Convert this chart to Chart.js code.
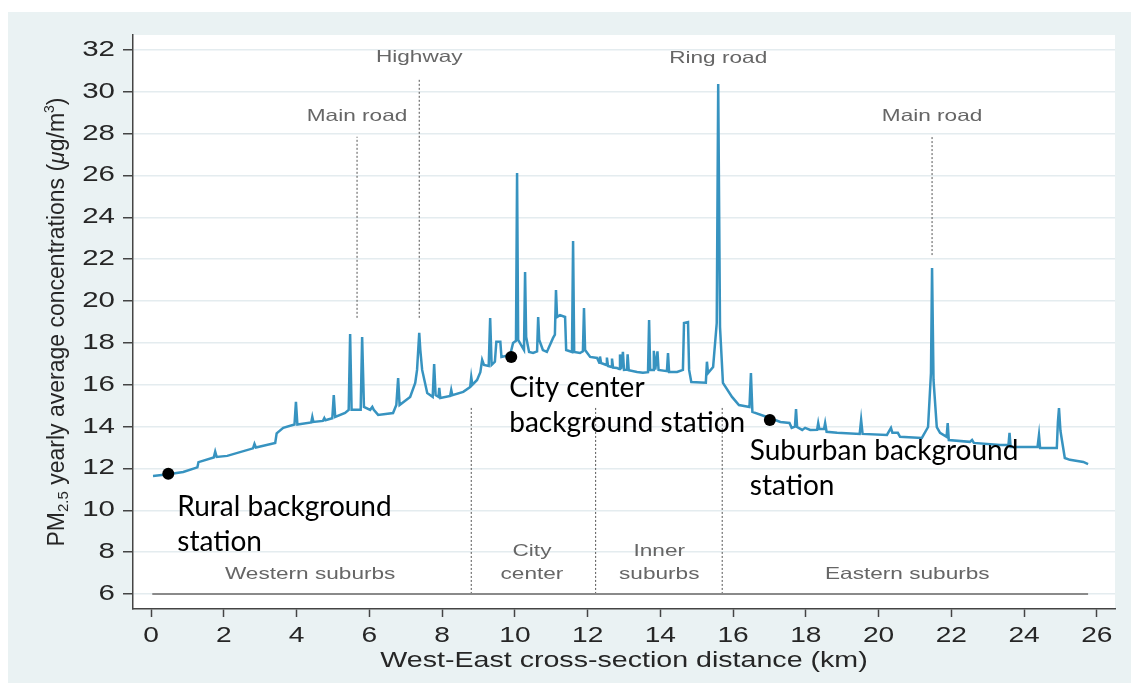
<!DOCTYPE html>
<html>
<head>
<meta charset="utf-8">
<title>PM2.5 West-East cross-section</title>
<script src="https://cdn.jsdelivr.net/npm/chart.js@4.4.1/dist/chart.umd.min.js"></script>
<style>
  html, body { margin: 0; padding: 0; background: #fff; }
  #wrap { width: 1131px; height: 695px; }
</style>
</head>
<body>
<div id="wrap"><canvas id="pmChart" width="1131" height="695"></canvas></div>
<script>
// modelled PM2.5 along the cross-section (km, ug/m3)
const distKm = [
  0.05, 0.47, 0.88, 1.27, 1.30, 1.72, 1.76, 1.80, 2.09, 2.80, 2.84, 2.88,
  3.41, 3.45, 3.63, 3.94, 3.98, 4.02, 4.40, 4.43, 4.46, 4.72, 4.76, 4.79,
  4.98, 5.02, 5.06, 5.33, 5.43, 5.47, 5.51, 5.76, 5.80, 5.85, 6.02, 6.08,
  6.12, 6.24, 6.65, 6.74, 6.79, 6.83, 7.12, 7.26, 7.31, 7.37, 7.40, 7.45,
  7.59, 7.74, 7.78, 7.82, 7.90, 7.92, 7.95, 8.22, 8.25, 8.28, 8.58, 8.77,
  8.80, 8.83, 8.96, 9.05, 9.10, 9.15, 9.28, 9.32, 9.36, 9.45, 9.49, 9.60,
  9.63, 9.87, 9.95, 10.03, 10.06, 10.09, 10.25, 10.28, 10.31, 10.39, 10.50, 10.61,
  10.64, 10.67, 10.77, 10.88, 11.05, 11.10, 11.13, 11.16, 11.24, 11.38, 11.41, 11.57,
  11.60, 11.63, 11.79, 11.87, 11.90, 11.93, 12.07, 12.26, 12.32, 12.34, 12.37, 12.51,
  12.53, 12.56, 12.65, 12.67, 12.70, 12.81, 12.87, 12.89, 12.92, 12.97, 13.00, 13.08,
  13.10, 13.13, 13.36, 13.52, 13.66, 13.69, 13.72, 13.80, 13.82, 13.86, 13.92, 13.95,
  14.18, 14.21, 14.24, 14.46, 14.62, 14.65, 14.76, 14.79, 14.85, 15.25, 15.28, 15.31,
  15.45, 15.55, 15.59, 15.64, 15.72, 15.97, 16.16, 16.45, 16.49, 16.53, 16.93, 17.30,
  17.55, 17.61, 17.70, 17.73, 17.76, 17.90, 17.98, 18.12, 18.31, 18.34, 18.37, 18.50,
  18.53, 18.57, 18.86, 19.48, 19.52, 19.56, 20.23, 20.34, 20.38, 20.53, 20.59, 21.19,
  21.36, 21.44, 21.47, 21.51, 21.60, 21.69, 21.87, 21.90, 21.93, 22.51, 22.57, 22.62,
  23.34, 23.57, 23.60, 23.63, 24.37, 24.41, 24.44, 24.90, 24.93, 24.96, 25.00, 25.04,
  25.12, 25.26, 25.63, 25.76];
const pm25 = [
  11.64, 11.72, 11.83, 12.05, 12.30, 12.52, 12.80, 12.55, 12.60, 12.96, 13.17, 13.00,
  13.22, 13.68, 13.94, 14.10, 15.18, 14.10, 14.20, 14.46, 14.22, 14.27, 14.41, 14.30,
  14.40, 15.51, 14.46, 14.65, 14.80, 18.43, 14.80, 14.80, 18.28, 14.94, 14.80, 14.94,
  14.80, 14.56, 14.65, 15.03, 16.32, 15.03, 15.42, 16.09, 16.71, 18.48, 17.66, 16.71,
  15.61, 15.42, 16.99, 15.51, 15.42, 15.85, 15.37, 15.46, 15.75, 15.50, 15.66, 15.89,
  16.37, 16.00, 16.23, 16.60, 17.19, 16.95, 16.90, 19.19, 16.95, 17.10, 18.05, 18.05,
  17.33, 17.42, 18.00, 18.10, 26.12, 18.14, 17.66, 21.39, 18.28, 17.57, 17.52, 17.60,
  19.24, 18.14, 17.66, 17.57, 18.24, 18.40, 20.53, 19.24, 19.33, 19.24, 17.66, 17.57,
  22.87, 17.57, 17.52, 17.60, 19.67, 17.66, 17.33, 17.28, 17.05, 17.35, 17.04, 16.95,
  17.30, 16.90, 16.85, 17.25, 16.82, 16.80, 16.75, 17.45, 16.75, 17.57, 16.71, 16.72,
  17.45, 16.70, 16.61, 16.57, 16.60, 19.10, 16.71, 16.71, 17.62, 16.72, 17.60, 16.71,
  16.65, 17.52, 16.61, 16.61, 16.71, 18.95, 19.00, 16.71, 16.13, 16.10, 17.10, 16.56,
  16.85, 18.95, 30.38, 18.76, 16.09, 15.42, 15.03, 14.94, 16.56, 14.70, 14.46, 14.22,
  14.17, 13.94, 14.00, 14.84, 13.98, 13.84, 13.94, 13.84, 13.85, 14.17, 13.89, 13.89,
  14.17, 13.75, 13.70, 13.65, 14.32, 13.65, 13.60, 13.94, 13.70, 13.70, 13.51, 13.46,
  13.98, 16.56, 21.58, 16.23, 13.98, 13.70, 13.51, 14.17, 13.36, 13.27, 13.36, 13.22,
  13.12, 13.12, 13.70, 13.03, 13.03, 13.60, 12.98, 12.98, 14.22, 14.89, 13.80, 13.36,
  12.50, 12.41, 12.31, 12.21];

const xTicks = [0, 2, 4, 6, 8, 10, 12, 14, 16, 18, 20, 22, 24, 26];
const yTicks = [6, 8, 10, 12, 14, 16, 18, 20, 22, 24, 26, 28, 30, 32];

const stationNames = [['Rural background', 'station'], ['City center', 'background station'], ['Suburban background', 'station']];
const stationKm = [0.47, 9.90, 17.01];
const stationPm = [11.74, 17.33, 14.32];

const roadNames = ['Main road', 'Highway', 'Ring road', 'Main road'];
const roadKm = [5.66, 7.37, 15.59, 21.47];
const roadLineTop = [27.85, 30.67, null, 27.85];
const roadLineBottom = [19.2, 19.2, null, 22.2];
const roadLabelPm = [28.85, 31.67, 31.62, 28.85];

const zoneNames = [['Western suburbs'], ['City', 'center'], ['Inner', 'suburbs'], ['Eastern suburbs']];
const zoneCenterKm = [4.37, 10.47, 13.97, 20.79];
const zoneBoundKm = [8.80, 12.22, 15.70];
const zoneBoundTop = 14.9;
const baseLevel = 6;
const baseFromKm = 0.03;
const baseToKm = 25.76;

const STATA_FONT = '"Liberation Sans", Arial, Helvetica, sans-serif';
const NOTE_FONT = 'Lato, "Open Sans", sans-serif';
const TEXT_SX = 1.37;   // the figure is stretched sideways

function stretchedText(c, text, x, y, sx, align) {
    c.save();
    c.translate(x, y);
    c.scale(sx, 1);
    c.textAlign = align || 'center';
    c.fillText(text, 0, 0);
    c.restore();
}

const datasets = [];

datasets.push({
    label: 'stations',
    data: stationKm.map((k, i) => ({ x: k, y: stationPm[i] })),
    showLine: false,
    pointRadius: 6,
    pointBackgroundColor: '#000',
    pointBorderWidth: 0
});

datasets.push({
    label: 'PM2.5',
    data: distKm.map((k, i) => ({ x: k, y: pm25[i] })),
    showLine: true,
    borderColor: '#3793c0',
    borderWidth: 2.5,
    pointRadius: 0,
    tension: 0
});

datasets.push({
    label: 'base',
    data: [{ x: baseFromKm, y: baseLevel }, { x: baseToKm, y: baseLevel }],
    showLine: true,
    borderColor: '#8a8a8a',
    borderWidth: 2,
    pointRadius: 0
});

roadKm.forEach((k, i) => {
    if (roadLineTop[i] == null) return;
    datasets.push({
        label: 'road' + i,
        data: [{ x: k, y: roadLineBottom[i] }, { x: k, y: roadLineTop[i] }],
        showLine: true,
        borderColor: '#555',
        borderWidth: 1,
        borderDash: [2, 2],
        pointRadius: 0
    });
});

zoneBoundKm.forEach((k, i) => {
    datasets.push({
        label: 'zone' + i,
        data: [{ x: k, y: baseLevel }, { x: k, y: zoneBoundTop }],
        showLine: true,
        borderColor: '#555',
        borderWidth: 1,
        borderDash: [2, 2],
        pointRadius: 0
    });
});

const framePlugin = {
    id: 'frame',
    beforeDraw(chart) {
        const c = chart.ctx;
        const a = chart.chartArea;
        c.save();
        c.fillStyle = '#ffffff';
        c.fillRect(0, 0, chart.width, chart.height);
        c.fillStyle = '#eaf2f3';
        c.fillRect(8, 12, chart.width - 8, 671);
        c.fillStyle = '#ffffff';
        c.fillRect(a.left, a.top, a.right - a.left, a.bottom - a.top);
        c.restore();
    }
};

const textPlugin = {
    id: 'texts',
    afterDraw(chart) {
        const c = chart.ctx;
        const xs = chart.scales.x;
        const ys = chart.scales.y;
        c.save();

        // tick labels
        c.fillStyle = '#262626';
        c.font = `21.5px ${STATA_FONT}`;
        c.textBaseline = 'middle';
        ys.ticks.forEach(t => stretchedText(c, String(t.value), ys.right - 18, ys.getPixelForValue(t.value), TEXT_SX, 'right'));
        c.font = `22.5px ${STATA_FONT}`;
        xs.ticks.forEach(t => stretchedText(c, String(t.value), xs.getPixelForValue(t.value), xs.top + 27, 1.25, 'center'));

        // x title
        c.font = `22px ${STATA_FONT}`;
        stretchedText(c, 'West-East cross-section distance (km)', 624, 661, 1.3, 'center');

        // y title with subscript / superscript
        const parts = [
            { t: 'PM', f: `23px ${STATA_FONT}`, dy: 0 },
            { t: '2.5', f: `15px ${STATA_FONT}`, dy: 6 },
            { t: ' yearly average concentrations (', f: `23px ${STATA_FONT}`, dy: 0 },
            { t: 'μ', f: `italic 23px ${STATA_FONT}`, dy: 0 },
            { t: 'g/m', f: `23px ${STATA_FONT}`, dy: 0 },
            { t: '3', f: `14px ${STATA_FONT}`, dy: -8 },
            { t: ')', f: `23px ${STATA_FONT}`, dy: 0 }
        ];
        let total = 0;
        parts.forEach(p => { c.font = p.f; p.w = c.measureText(p.t).width; total += p.w; });
        c.translate(58, 322);
        c.rotate(-Math.PI / 2);
        c.textAlign = 'left';
        let px = -total / 2;
        parts.forEach(p => { c.font = p.f; c.fillText(p.t, px, p.dy); px += p.w; });
        c.setTransform(1, 0, 0, 1, 0, 0);

        // road labels
        c.fillStyle = '#666';
        c.font = `16.5px ${STATA_FONT}`;
        roadNames.forEach((n, i) => stretchedText(c, n, xs.getPixelForValue(roadKm[i]), ys.getPixelForValue(roadLabelPm[i]), TEXT_SX, 'center'));

        // zone labels
        zoneNames.forEach((lines, i) => {
            const cx = xs.getPixelForValue(zoneCenterKm[i]);
            const bottom = ys.getPixelForValue(baseLevel) - 19;
            lines.forEach((ln, j) => stretchedText(c, ln, cx, bottom - (lines.length - 1 - j) * 23, TEXT_SX, 'center'));
        });

        // station notes
        c.fillStyle = '#000';
        c.font = `28px ${NOTE_FONT}`;
        c.textBaseline = 'alphabetic';
        const noteOffset = [[9, 42], [-2, 40], [-20, 40]];
        stationNames.forEach((lines, i) => {
            const x0 = xs.getPixelForValue(stationKm[i]) + noteOffset[i][0];
            const y0 = ys.getPixelForValue(stationPm[i]) + noteOffset[i][1];
            lines.forEach((ln, j) => { c.textAlign = 'left'; c.fillText(ln, x0, y0 + j * 35); });
        });

        c.restore();
    }
};

new Chart(document.getElementById('pmChart'), {
    type: 'scatter',
    data: { datasets: datasets },
    options: {
        responsive: false,
        animation: false,
        events: [],
        layout: { padding: { top: 35, right: 16, left: 0, bottom: 0 } },
        plugins: { legend: { display: false }, tooltip: { enabled: false } },
        scales: {
            x: {
                type: 'linear',
                min: -0.5,
                max: 26.5,
                afterBuildTicks: s => { s.ticks = xTicks.map(v => ({ value: v })); },
                afterFit: s => { s.height = 86; },
                ticks: { display: false },
                grid: { drawOnChartArea: false, drawTicks: true, tickLength: 8, tickColor: '#444', tickWidth: 1.5 },
                border: { color: '#444', width: 1.5 }
            },
            y: {
                type: 'linear',
                min: 5.28,
                max: 32.72,
                afterBuildTicks: s => { s.ticks = yTicks.map(v => ({ value: v })); },
                afterFit: s => { s.width = 133; },
                ticks: { display: false },
                grid: { color: '#e4ecef', lineWidth: 1.5, drawTicks: true, tickLength: 10, tickColor: '#444', tickWidth: 1.5 },
                border: { color: '#444', width: 1.5 }
            }
        }
    },
    plugins: [framePlugin, textPlugin]
});
</script>
</body>
</html>
